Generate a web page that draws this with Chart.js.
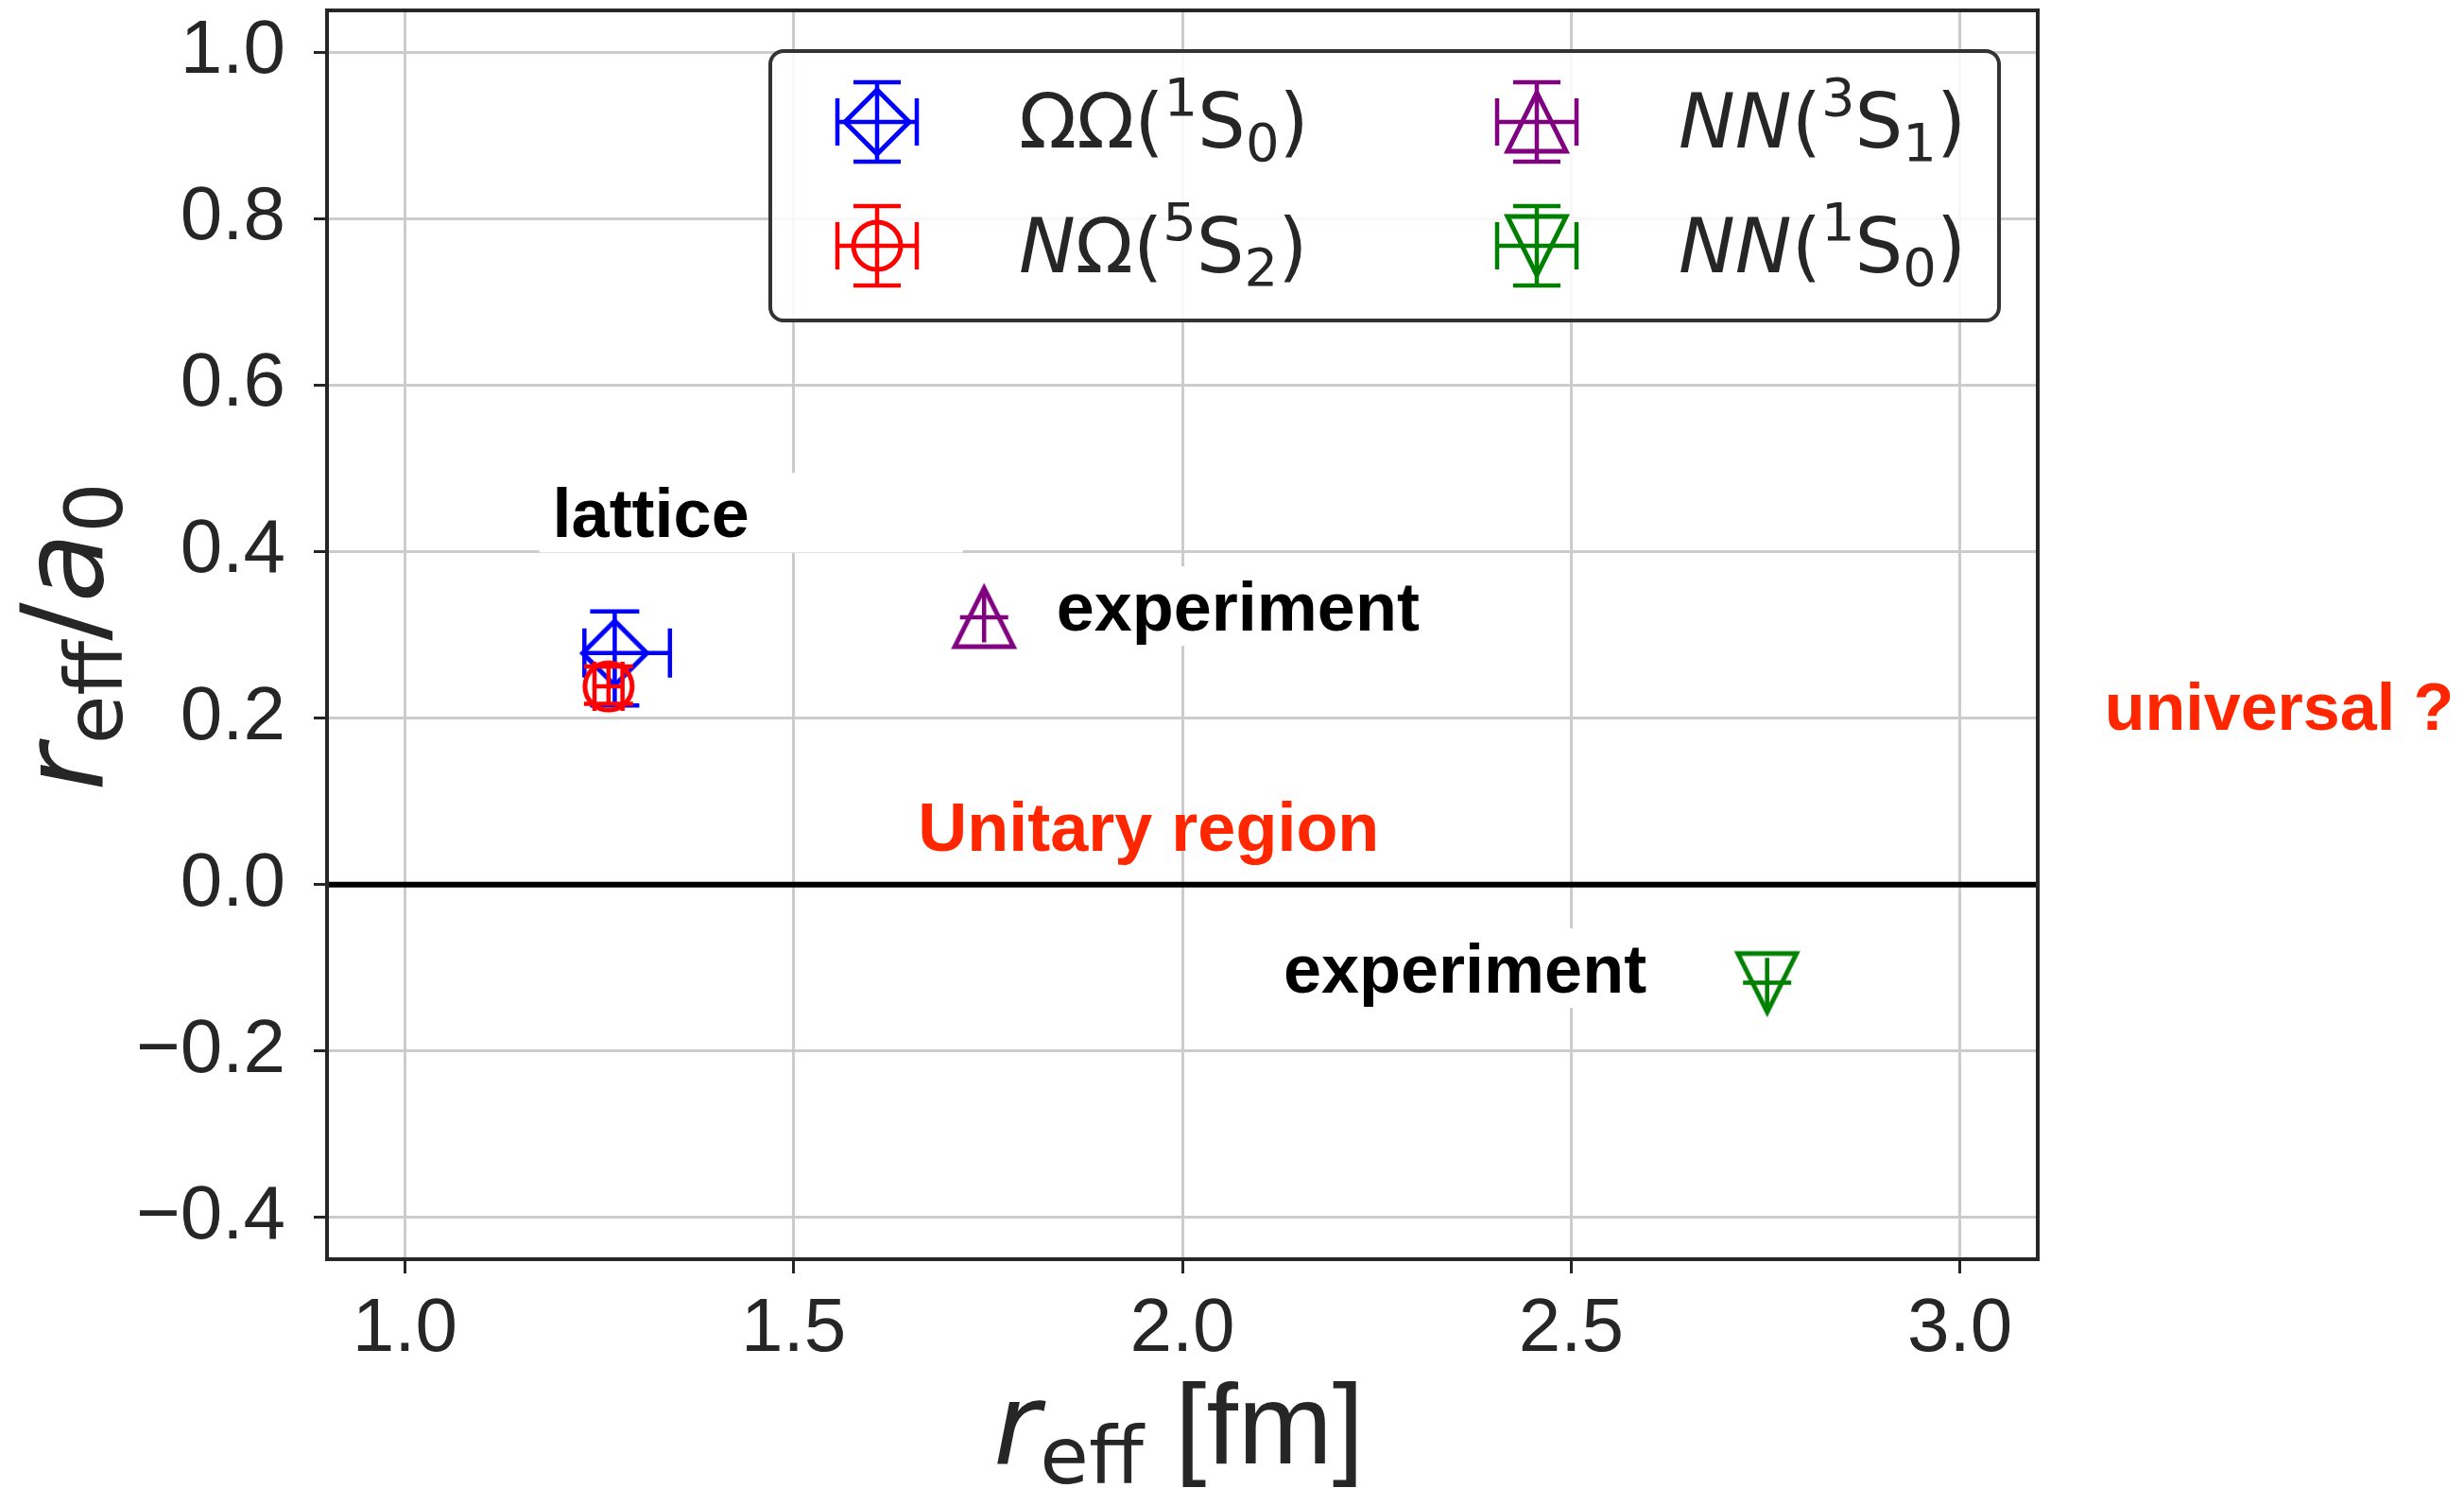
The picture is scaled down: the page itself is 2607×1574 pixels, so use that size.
<!DOCTYPE html>
<html>
<head>
<meta charset="utf-8">
<script src="https://cdn.jsdelivr.net/npm/chart.js@4.4.1/dist/chart.umd.min.js"></script>
<style>
    html, body { margin: 0; padding: 0; background: #ffffff; }
    canvas { display: block; }
</style>
</head>
<body>
<canvas id="effRangeChart" width="2607" height="1574"></canvas>
<script>
// ==================== DATA ====================

const seriesNames = ['ΩΩ(1S0)', 'NΩ(5S2)', 'NN(3S1)', 'NN(1S0)'];
const rEff     = [1.270, 1.262, 1.745, 2.752];     // r_eff [fm]
const rOverA   = [0.278, 0.238, 0.321, -0.118];    // r_eff / a_0
const xErrLow  = [0.039, 0.018, 0.031, 0.031];
const xErrHigh = [0.071, 0.018, 0.031, 0.031];
const yErrLow  = [0.063, 0.021, 0.030, 0.030];
const yErrHigh = [0.050, 0.024, 0.030, 0.030];

const xTicks = [1.0, 1.5, 2.0, 2.5, 3.0];
const yTicks = [-0.4, -0.2, 0.0, 0.2, 0.4, 0.6, 0.8, 1.0];
const xLimits = [0.9, 3.1];
const yLimits = [-0.45, 1.05];

// ==================== STYLES ====================

const MATH = '"DejaVu Sans", sans-serif';
const SANS = '"Liberation Sans", Arial, sans-serif';
const INK = '#262626';

const seriesStyle = [
    { color: '#0000ff', marker: 'diamond',      cap: 26 },
    { color: '#ff0000', marker: 'circle',       cap: 26 },
    { color: '#800080', marker: 'triangleUp',   cap: 0 },
    { color: '#008000', marker: 'triangleDown', cap: 0 }
];

// legend labels, written as small mathtext pieces
const legendLabels = [
    [{ t: 'ΩΩ' }, { t: '(' }, { t: '1', sup: true }, { t: 'S' }, { t: '0', sub: true }, { t: ')' }],
    [{ t: 'N', it: true }, { t: 'Ω' }, { t: '(' }, { t: '5', sup: true }, { t: 'S' }, { t: '2', sub: true }, { t: ')' }],
    [{ t: 'NN', it: true }, { t: '(' }, { t: '3', sup: true }, { t: 'S' }, { t: '1', sub: true }, { t: ')' }],
    [{ t: 'NN', it: true }, { t: '(' }, { t: '1', sup: true }, { t: 'S' }, { t: '0', sub: true }, { t: ')' }]
];

// text notes, anchored at left / baseline in data units
const notes = [
    { text: 'lattice',        x: 1.190, y: 0.417,  size: 72, color: '#000000', box: true, boxExtra: 212 },
    { text: 'experiment',     x: 1.838, y: 0.305,  size: 72, color: '#000000', box: true, boxExtra: 0 },
    { text: 'experiment',     x: 2.130, y: -0.130, size: 72, color: '#000000', box: true, boxExtra: 0 },
    { text: 'Unitary region', x: 1.660, y: 0.041,  size: 72, color: '#ff2600', box: false },
    { text: 'universal ?',    x: 3.186, y: 0.186,  size: 70, color: '#ff2600', box: false }
];

// ==================== MARKERS ====================

function makeMarker(kind, color) {
    let c = document.createElement('canvas');
    c.width = 90;
    c.height = 90;
    let g = c.getContext('2d');
    let m = 45;
    g.strokeStyle = color;
    g.lineWidth = 5;
    g.lineJoin = 'miter';
    g.beginPath();
    if (kind === 'diamond') {
        let h = 34;
        g.moveTo(m - h, m); g.lineTo(m, m - h); g.lineTo(m + h, m); g.lineTo(m, m + h);
        g.closePath();
    } else if (kind === 'circle') {
        g.arc(m, m, 25, 0, Math.PI * 2);
    } else if (kind === 'triangleUp') {
        let h = 31;
        g.moveTo(m, m - h); g.lineTo(m - h, m + h); g.lineTo(m + h, m + h);
        g.closePath();
    } else {
        let h = 31;
        g.moveTo(m, m + h); g.lineTo(m - h, m - h); g.lineTo(m + h, m - h);
        g.closePath();
    }
    g.stroke();
    return c;
}

const markerImages = seriesStyle.map(s => makeMarker(s.marker, s.color));

// ==================== TEXT HELPERS ====================

function pieceFont(p, size) {
    let s = (p.sup || p.sub) ? Math.round(size * 0.7) : size;
    if (p.size) s = p.size;
    return (p.it ? 'italic ' : '') + s + 'px ' + (p.family || MATH);
}

function drawPieces(ctx, pieces, x, y, size, align) {
    let widths = pieces.map(p => {
        ctx.font = pieceFont(p, size);
        return ctx.measureText(p.t).width;
    });
    let total = widths.reduce((a, b) => a + b, 0);
    let cx = align === 'center' ? x - total / 2 : x;
    pieces.forEach((p, i) => {
        ctx.font = pieceFont(p, size);
        let dy = p.sup ? -size * 0.42 : (p.sub ? size * 0.175 : 0);
        if (p.dy !== undefined) dy = p.dy;
        ctx.fillText(p.t, cx, y + dy);
        cx += widths[i];
    });
}

function drawErrorBar(ctx, px, py, x1, x2, y1, y2, cap) {
    ctx.beginPath();
    ctx.moveTo(x1, py); ctx.lineTo(x2, py);
    ctx.moveTo(px, y1); ctx.lineTo(px, y2);
    if (cap) {
        ctx.moveTo(x1, py - cap); ctx.lineTo(x1, py + cap);
        ctx.moveTo(x2, py - cap); ctx.lineTo(x2, py + cap);
        ctx.moveTo(px - cap, y1); ctx.lineTo(px + cap, y1);
        ctx.moveTo(px - cap, y2); ctx.lineTo(px + cap, y2);
    }
    ctx.stroke();
}

// ==================== PLUGINS ====================

const errorBarPlugin = {
    id: 'errorBars',
    beforeDatasetDraw(chart, args) {
        let i = args.index;
        let ctx = chart.ctx;
        let xs = chart.scales.x, ys = chart.scales.y;
        let px = xs.getPixelForValue(rEff[i]);
        let py = ys.getPixelForValue(rOverA[i]);
        ctx.save();
        ctx.strokeStyle = seriesStyle[i].color;
        ctx.lineWidth = 4.5;
        drawErrorBar(ctx, px, py,
            xs.getPixelForValue(rEff[i] - xErrLow[i]), xs.getPixelForValue(rEff[i] + xErrHigh[i]),
            ys.getPixelForValue(rOverA[i] + yErrHigh[i]), ys.getPixelForValue(rOverA[i] - yErrLow[i]),
            seriesStyle[i].cap);
        ctx.restore();
    }
};

const framePlugin = {
    id: 'frame',
    beforeDatasetsDraw(chart) {
        let ctx = chart.ctx;
        let a = chart.chartArea;
        let y0 = chart.scales.y.getPixelForValue(0);
        ctx.save();
        ctx.strokeStyle = '#000000';
        ctx.lineWidth = 6;
        ctx.beginPath();
        ctx.moveTo(a.left, y0);
        ctx.lineTo(a.right, y0);
        ctx.stroke();
        ctx.restore();
    },
    afterDatasetsDraw(chart) {
        let ctx = chart.ctx;
        let a = chart.chartArea;
        let xs = chart.scales.x, ys = chart.scales.y;

        // notes
        ctx.save();
        ctx.textBaseline = 'alphabetic';
        notes.forEach(n => {
            ctx.font = 'bold ' + n.size + 'px ' + SANS;
            let px = xs.getPixelForValue(n.x);
            let py = ys.getPixelForValue(n.y);
            let w = ctx.measureText(n.text).width;
            if (n.box) {
                ctx.fillStyle = '#ffffff';
                ctx.fillRect(px - 14, py - 68, w + 28 + n.boxExtra, 84);
            }
            ctx.fillStyle = n.color;
            ctx.fillText(n.text, px, py);
        });
        ctx.restore();

        // spines
        ctx.save();
        ctx.strokeStyle = INK;
        ctx.lineWidth = 4;
        ctx.strokeRect(a.left, a.top, a.right - a.left, a.bottom - a.top);
        ctx.restore();
    }
};

const legendPlugin = {
    id: 'errLegend',
    afterDraw(chart) {
        let ctx = chart.ctx;
        let box = { x: 815, y: 54, w: 1300, h: 285, r: 14 };
        let markerX = [928, 928, 1626, 1626];
        let markerY = [129, 260, 129, 260];
        let textX = [1078, 1078, 1776, 1776];
        let textY = [156, 288, 156, 288];

        ctx.save();
        ctx.beginPath();
        ctx.roundRect(box.x, box.y, box.w, box.h, box.r);
        ctx.fillStyle = 'rgba(255,255,255,0.85)';
        ctx.fill();
        ctx.strokeStyle = '#333333';
        ctx.lineWidth = 4;
        ctx.stroke();

        for (let i = 0; i < seriesNames.length; i++) {
            let cx = markerX[i], cy = markerY[i];
            ctx.strokeStyle = seriesStyle[i].color;
            ctx.lineWidth = 4.5;
            drawErrorBar(ctx, cx, cy, cx - 42, cx + 42, cy - 42, cy + 42, 25);
            ctx.drawImage(markerImages[i], cx - 45, cy - 45);

            ctx.fillStyle = INK;
            ctx.textBaseline = 'alphabetic';
            drawPieces(ctx, legendLabels[i], textX[i], textY[i], 80, 'left');
        }
        ctx.restore();
    }
};

const axisTitlePlugin = {
    id: 'axisTitles',
    afterDraw(chart) {
        let ctx = chart.ctx;
        let a = chart.chartArea;
        ctx.save();
        ctx.fillStyle = INK;
        ctx.textBaseline = 'alphabetic';

        drawPieces(ctx, [
            { t: 'r', it: true },
            { t: 'eff', sub: true, dy: 21 },
            { t: ' [fm]', family: SANS }
        ], (a.left + a.right) / 2 - 4, 1548, 120, 'center');

        ctx.translate(108, (a.top + a.bottom) / 2 + 2);
        ctx.rotate(-Math.PI / 2);
        drawPieces(ctx, [
            { t: 'r', it: true },
            { t: 'eff', sub: true, dy: 21 },
            { t: '/' },
            { t: 'a', it: true },
            { t: '0', sub: true, dy: 21 }
        ], 0, 0, 120, 'center');
        ctx.restore();
    }
};

// ==================== CHART ====================

function tickLabel(v) {
    return v.toFixed(1).replace('-', '\u2212');
}

let ctx = document.getElementById('effRangeChart').getContext('2d');
new Chart(ctx, {
    type: 'scatter',
    data: {
        datasets: seriesNames.map((name, i) => ({
            label: name,
            data: [{ x: rEff[i], y: rOverA[i] }],
            pointStyle: markerImages[i],
            pointRadius: 40,
            pointHoverRadius: 40,
            order: seriesNames.length - i
        }))
    },
    options: {
        responsive: false,
        animation: false,
        devicePixelRatio: 1,
        events: [],
        layout: { autoPadding: false, padding: { left: 0, top: 11, right: 451, bottom: 0 } },
        plugins: {
            legend: { display: false },
            tooltip: { enabled: false }
        },
        scales: {
            x: {
                type: 'linear',
                min: xLimits[0],
                max: xLimits[1],
                afterBuildTicks: s => { s.ticks = xTicks.map(v => ({ value: v })); },
                afterFit: s => { s.height = 242; s.paddingLeft = 0; s.paddingRight = 0; },
                grid: { color: '#cccccc', lineWidth: 3, tickLength: 15, tickColor: INK, tickWidth: 3 },
                border: { display: false },
                ticks: {
                    autoSkip: false,
                    maxRotation: 0,
                    padding: 12,
                    color: INK,
                    font: { family: SANS, size: 80 },
                    callback: v => tickLabel(v)
                }
            },
            y: {
                type: 'linear',
                min: yLimits[0],
                max: yLimits[1],
                afterBuildTicks: s => { s.ticks = yTicks.map(v => ({ value: v })); },
                afterFit: s => { s.width = 346; s.paddingTop = 0; s.paddingBottom = 0; },
                grid: { color: '#cccccc', lineWidth: 3, tickLength: 14, tickColor: INK, tickWidth: 3 },
                border: { display: false },
                ticks: {
                    autoSkip: false,
                    padding: 30,
                    color: INK,
                    font: { family: SANS, size: 80 },
                    callback: v => tickLabel(v)
                }
            }
        }
    },
    plugins: [errorBarPlugin, framePlugin, legendPlugin, axisTitlePlugin]
});
</script>
</body>
</html>
